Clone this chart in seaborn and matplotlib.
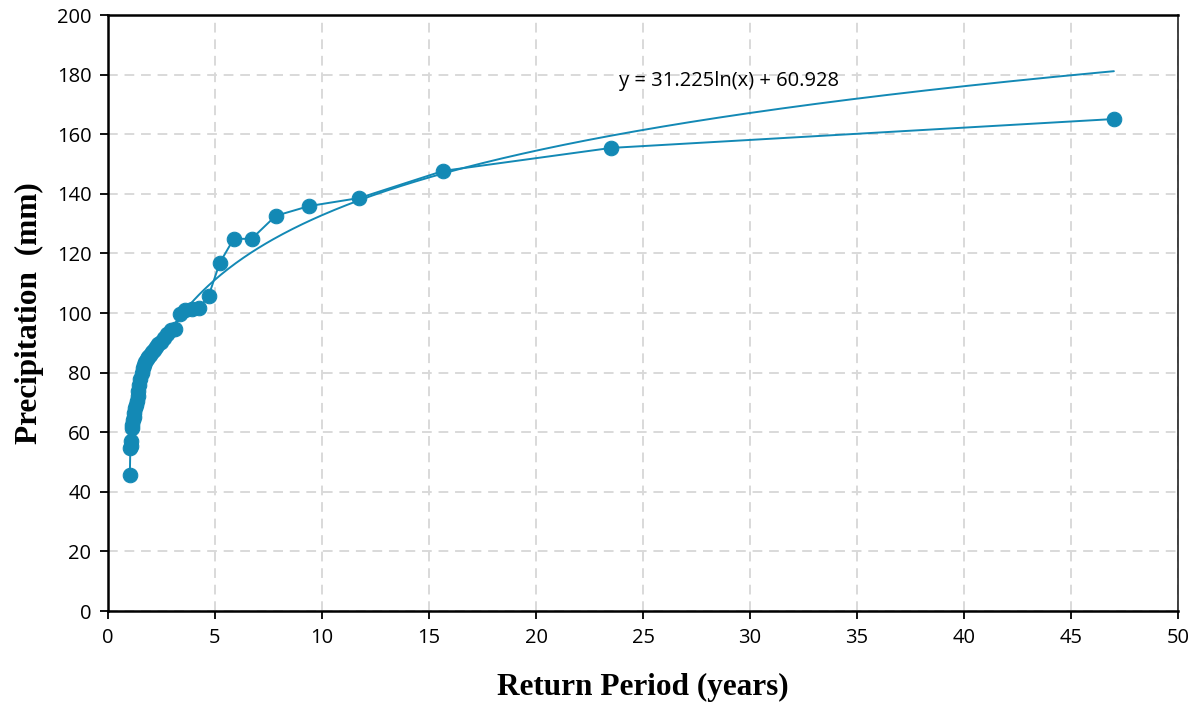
import numpy as np
import pandas as pd
import matplotlib
matplotlib.use("Agg")
import matplotlib.pyplot as plt
import seaborn as sns

# Return period (years) and precipitation (mm)
return_period = [47.0, 23.5, 15.667, 11.75, 9.4, 7.833, 6.714, 5.875, 5.222, 4.7,
                 4.273, 3.917, 3.615, 3.357, 3.133, 2.938, 2.765, 2.611, 2.474, 2.35,
                 2.238, 2.136, 2.043, 1.958, 1.88, 1.808, 1.741, 1.679, 1.621, 1.567,
                 1.516, 1.469, 1.424, 1.382, 1.343, 1.306, 1.27, 1.237, 1.205, 1.175,
                 1.146, 1.119, 1.093, 1.068, 1.044, 1.022]
precipitation = [165.1, 155.4, 147.7, 138.6, 135.9, 132.6, 124.9, 124.9, 116.8, 105.7,
                 101.8, 101.5, 101.0, 99.8, 94.6, 94.3, 93.0, 91.5, 90.3, 89.5,
                 88.6, 87.5, 87.0, 86.0, 85.2, 84.5, 83.5, 82.5, 81.5, 80.0,
                 78.0, 76.0, 74.0, 72.0, 70.5, 69.0, 68.0, 66.5, 65.0, 64.0,
                 62.5, 61.5, 57.0, 55.5, 54.7, 45.5]
trend_a = 31.225
trend_b = 60.928
equation_label = "y = 31.225ln(x) + 60.928"
x_ticks = [0, 5, 10, 15, 20, 25, 30, 35, 40, 45, 50]
y_ticks = [0, 20, 40, 60, 80, 100, 120, 140, 160, 180, 200]

sns.set_theme(style="white")
plt.rcParams['font.family'] = ['Open Sans', 'DejaVu Sans']
plt.rcParams['text.color'] = 'black'
plt.rcParams['axes.labelcolor'] = 'black'
plt.rcParams['xtick.color'] = 'black'
plt.rcParams['ytick.color'] = 'black'

color = "#1389b5"
df = pd.DataFrame({"T": return_period, "P": precipitation}).sort_values("T")
xs = np.linspace(min(return_period), max(return_period), 400)
trend = pd.DataFrame({"T": xs, "P": trend_a * np.log(xs) + trend_b})

fig = plt.figure(figsize=(11.97, 7.05), dpi=100)
ax = fig.add_axes([0.0902, 0.1333, 0.8940, 0.8454])

ax.grid(True, color="#d9d9d9", linestyle=(0, (5, 3.5)), linewidth=1.4)
ax.set_axisbelow(True)

sns.lineplot(data=trend, x="T", y="P", ax=ax, color=color, linewidth=1.4, sort=False)
sns.lineplot(data=df, x="T", y="P", ax=ax, color=color, linewidth=1.4, sort=False,
             marker="o", markersize=10.5, markeredgecolor=color, markerfacecolor=color)

ax.set_xlim(0, 50)
ax.set_ylim(0, 200)
ax.set_xticks(x_ticks)
ax.set_yticks(y_ticks)
ax.tick_params(axis="both", which="both", direction="out", length=6, width=1.3,
               labelsize=14.5, color="black", labelcolor="black", pad=6,
               left=True, bottom=True)

for side in ["left", "bottom", "top"]:
    ax.spines[side].set_color("black")
    ax.spines[side].set_linewidth(1.8)
ax.spines["right"].set_color("#222222")
ax.spines["right"].set_linewidth(1.2)

ax.set_xlabel("Return Period (years)", fontsize=22.5, fontweight="bold", color="black",
              family=["Liberation Serif", "DejaVu Serif"], labelpad=18)
ax.set_ylabel("Precipitation  (mm)", fontsize=22.5, fontweight="bold", color="black",
              family=["Liberation Serif", "DejaVu Serif"], labelpad=9)

ax.text(29.0, 178, equation_label, fontsize=14.5, ha="center", va="center", color="black")

fig.savefig("out.png", dpi=100)
